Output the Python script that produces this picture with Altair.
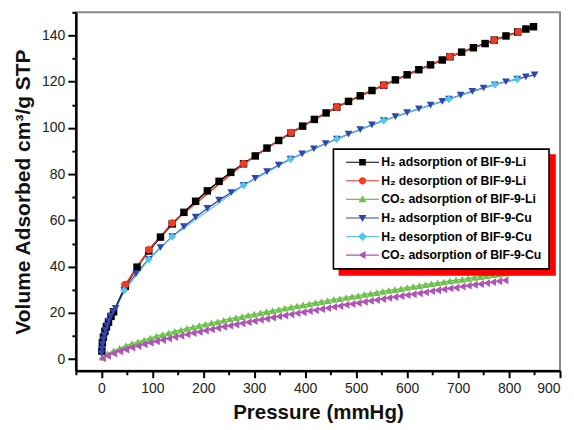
import altair as alt
import pandas as pd

series_names = [
    "H₂ adsorption of BIF-9-Li",
    "H₂ desorption of BIF-9-Li",
    "CO₂ adsorption of BIF-9-Li",
    "H₂ adsorption of BIF-9-Cu",
    "H₂ desorption of BIF-9-Cu",
    "CO₂ adsorption of BIF-9-Cu",
]

li_ads_x = [1, 2, 4, 7, 10, 14, 19, 24, 47, 70, 93, 116, 139, 162, 185, 208, 231, 254, 279,
            302, 325, 348, 372, 395, 418, 441, 462, 485, 508, 531, 554, 577, 600, 623, 646,
            669, 684, 707, 730, 753, 771, 794, 817, 833, 848]
li_ads_y = [3.5, 7, 9.5, 12, 14, 16, 18.5, 20.5, 31.5, 39.8, 46.8, 52.8, 58.5, 63.5, 68.3,
            72.8, 76.9, 80.8, 84.5, 87.9, 91.3, 94.6, 97.8, 100.8, 103.7, 106.5, 109, 111.5,
            113.9, 116.2, 118.5, 120.8, 123.0, 125.2, 127.3, 129.4, 130.8, 132.8, 134.7,
            136.5, 138, 139.8, 141.5, 142.8, 143.8]

li_des_x = [47, 93, 139, 279, 372, 462, 554, 684, 771, 818]
li_des_y = [32.3, 47.3, 58.9, 84.5, 98.0, 109.0, 118.5, 130.9, 137.9, 141.5]

co2_li_x = [2, 12, 24, 36, 48, 60, 72, 84, 96, 108, 120, 132, 144, 156, 168, 180, 192, 204,
            216, 228, 240, 252, 264, 276, 288, 300, 312, 324, 336, 348, 360, 372, 384, 396,
            408, 420, 432, 444, 456, 468, 480, 492, 504, 516, 528, 540, 552, 564, 576, 588,
            600, 612, 624, 636, 648, 660, 672, 684, 696, 708, 720, 732, 744, 756, 768, 780,
            792, 800]
co2_li_y = [0.8, 2.3, 3.6, 4.7, 5.8, 6.7, 7.5, 8.3, 9.1, 9.9,
            10.6, 11.3, 12.0, 12.6, 13.3, 13.9, 14.5, 15.1, 15.7, 16.2,
            16.8, 17.4, 17.9, 18.4, 19.0, 19.5, 20.0, 20.5, 21.0, 21.5,
            22.0, 22.5, 23.0, 23.5, 23.9, 24.4, 24.9, 25.3, 25.8, 26.2,
            26.7, 27.1, 27.5, 28.0, 28.4, 28.8, 29.3, 29.7, 30.1, 30.5,
            31.0, 31.4, 31.8, 32.2, 32.6, 33.0, 33.4, 33.8, 34.2, 34.5,
            34.9, 35.3, 35.7, 36.1, 36.5, 36.8, 37.2, 37.5]

cu_ads_x = [0, 1, 2, 4, 6, 8, 11, 14, 18, 23, 28, 45, 68, 93, 116, 139, 162, 185, 208, 231,
            255, 279, 302, 325, 348, 371, 394, 417, 440, 462, 485, 508, 531, 554, 577, 600,
            623, 646, 669, 682, 705, 728, 750, 772, 794, 816, 833, 850]
cu_ads_y = [2.5, 4.5, 6.5, 8.5, 10.5, 12.5, 14.5, 16.5, 18.5, 20.5, 22, 29.8, 37, 43.2,
            48.3, 53, 57.3, 61.4, 65.2, 68.8, 72.1, 75.2, 78.2, 81.1, 83.9, 86.5, 88.8,
            91.0, 93.2, 95.2, 97.3, 99.3, 101.3, 103.2, 104.9, 106.6, 108.3, 109.9, 111.5,
            112.5, 114.2, 115.8, 117.3, 118.7, 120.0, 121.1, 122.1, 123.0]

cu_des_x = [45, 93, 139, 279, 371, 462, 554, 682, 772, 816]
cu_des_y = [29.8, 43.2, 53.0, 75.2, 86.5, 95.2, 103.2, 112.5, 118.7, 121.1]

co2_cu_x = [2, 12, 24, 36, 48, 60, 72, 84, 96, 108, 120, 132, 144, 156, 168, 180, 192, 204,
            216, 228, 240, 252, 264, 276, 288, 300, 312, 324, 336, 348, 360, 372, 384, 396,
            408, 420, 432, 444, 456, 468, 480, 492, 504, 516, 528, 540, 552, 564, 576, 588,
            600, 612, 624, 636, 648, 660, 672, 684, 696, 708, 720, 732, 744, 756, 768, 780,
            792]
co2_cu_y = [0.4, 1.5, 2.5, 3.4, 4.2, 5.0, 5.7, 6.4, 7.1, 7.7,
            8.3, 8.9, 9.6, 10.1, 10.7, 11.3, 11.8, 12.4, 12.9, 13.5,
            14.0, 14.5, 15.0, 15.5, 16.0, 16.5, 17.0, 17.5, 18.0, 18.5,
            18.9, 19.4, 19.9, 20.3, 20.8, 21.2, 21.7, 22.1, 22.6, 23.0,
            23.5, 23.9, 24.3, 24.8, 25.2, 25.6, 26.0, 26.5, 26.9, 27.3,
            27.7, 28.1, 28.5, 28.9, 29.4, 29.8, 30.2, 30.6, 30.9, 31.4,
            31.8, 32.2, 32.5, 32.9, 33.3, 33.7, 34.1]

x_ticks = [-50, 0, 50, 100, 150, 200, 250, 300, 350, 400, 450, 500, 550, 600, 650, 700, 750, 800, 850, 900]
y_ticks = [0, 10, 20, 30, 40, 50, 60, 70, 80, 90, 100, 110, 120, 130, 140, 150]

colors = ["#000000", "#ee3b25", "#6cc24a", "#2f45b0", "#52c6e6", "#b052b8"]
shapes = ["square", "circle", "triangle-up", "triangle-down", "diamond", "triangle-left"]
sizes = [56, 62, 28, 58, 62, 44]
line_widths = [1.6, 1.1, 1.0, 1.0, 1.0, 1.0]

# legend symbols: a short line with the marker on it
_line = "M-4.7,-0.16H4.7V0.16H-4.7Z "
legend_shapes = [
    _line + "M-0.95,-0.95H0.95V0.95H-0.95Z",
    _line + "M-1.05,0A1.05,1.05 0 1,1 1.05,0A1.05,1.05 0 1,1 -1.05,0Z",
    _line + "M0,-1.15L1.15,0.85L-1.15,0.85Z",
    _line + "M0,1.15L-1.15,-0.85L1.15,-0.85Z",
    _line + "M0,-1.25L1.25,0L0,1.25L-1.25,0Z",
    _line + "M-1.15,0L0.85,-1.15L0.85,1.15Z",
]

all_x = [li_ads_x, li_des_x, co2_li_x, cu_ads_x, cu_des_x, co2_cu_x]
all_y = [li_ads_y, li_des_y, co2_li_y, cu_ads_y, cu_des_y, co2_cu_y]

rows = []
for k, (name, xs, ys) in enumerate(zip(series_names, all_x, all_y)):
    for i, (xv, yv) in enumerate(zip(xs, ys)):
        rows.append({"series": name, "p": xv, "v": yv, "idx": i, "k": k})
df = pd.DataFrame(rows)
legend_df = df.groupby("series", sort=False).head(1).copy()

shadow_names = ["#" + n for n in series_names]
shadow_df = legend_df.copy()
shadow_df["shadow"] = ["#" + n for n in shadow_df["series"]]

x_enc = alt.X(
    "p:Q",
    scale=alt.Scale(domain=[-50, 900], nice=False, zero=False),
    axis=alt.Axis(
        values=x_ticks,
        title="Pressure (mmHg)",
        titleFontSize=20.5,
        labelExpr="datum.value % 100 === 0 ? datum.label : ''",
        tickSize={"condition": {"test": "datum.value % 100 === 0", "value": 7}, "value": 4},
        labelPadding=4,
        titlePadding=7,
        format="d",
    ),
)
y_enc = alt.Y(
    "v:Q",
    scale=alt.Scale(domain=[-5, 150], nice=False, zero=False),
    axis=alt.Axis(
        values=y_ticks,
        title="Volume Adsorbed cm³/g STP",
        titleFontSize=21,
        labelExpr="datum.value % 20 === 0 ? datum.label : ''",
        tickSize={"condition": {"test": "datum.value % 20 === 0", "value": 8}, "value": 4},
        labelPadding=3,
        titlePadding=8,
        format="d",
    ),
)

base = alt.Chart(df)

lines = base.mark_line().encode(
    x=x_enc,
    y=y_enc,
    color=alt.Color("series:N", scale=alt.Scale(domain=series_names, range=colors), legend=None),
    strokeWidth=alt.StrokeWidth("series:N", scale=alt.Scale(domain=series_names, range=line_widths), legend=None),
    detail="series:N",
    order="idx:Q",
)

points = base.mark_point(filled=True, opacity=1).encode(
    x=x_enc,
    y=y_enc,
    color=alt.Color("series:N", scale=alt.Scale(domain=series_names, range=colors), legend=None),
    shape=alt.Shape("series:N", scale=alt.Scale(domain=series_names, range=shapes), legend=None),
    size=alt.Size("series:N", scale=alt.Scale(domain=series_names, range=sizes), legend=None),
)

common_legend = dict(
    title=None,
    orient="none",
    direction="vertical",
    symbolSize=49,
    symbolStrokeWidth=0,
    symbolOpacity=1,
    symbolOffset=16,
    labelOffset=12.5,
    labelFont="Liberation Sans",
    labelFontWeight="bold",
    labelFontSize=12.3,
    labelLimit=400,
    padding=7,
    rowPadding=5.6,
    cornerRadius=0,
)

main_legend = alt.Legend(
    legendX=258, legendY=137, fillColor="white", strokeColor="black", labelColor="black",
    zindex=3, **common_legend
)
shadow_legend = alt.Legend(
    legendX=264, legendY=143, fillColor="red", strokeColor="red", labelColor="red",
    zindex=2, labelExpr="slice(datum.label, 1)", **common_legend
)

shadow_layer = alt.Chart(shadow_df).mark_point(filled=True, opacity=0, size=49).encode(
    x=x_enc,
    y=y_enc,
    color=alt.Color("shadow:N", scale=alt.Scale(domain=shadow_names, range=["red"] * 6), legend=shadow_legend),
    shape=alt.Shape("shadow:N", scale=alt.Scale(domain=shadow_names, range=legend_shapes), legend=shadow_legend),
)

legend_layer = alt.Chart(legend_df).mark_point(filled=True, opacity=0, size=49).encode(
    x=x_enc,
    y=y_enc,
    color=alt.Color("series:N", scale=alt.Scale(domain=series_names, range=colors), legend=main_legend),
    shape=alt.Shape("series:N", scale=alt.Scale(domain=series_names, range=legend_shapes), legend=main_legend),
)

chart = (
    alt.layer(lines, points, shadow_layer, legend_layer)
    .resolve_scale(color="independent", shape="independent")
    .properties(
        width=485,
        height=359,
        autosize=alt.AutoSizeParams(type="none"),
        padding={"left": 68, "top": 4, "right": 6, "bottom": 55},
        background="white",
    )
    .configure_axis(
        grid=False,
        labelFont="Liberation Sans",
        labelFontSize=14,
        labelColor="#222222",
        titleFont="Liberation Sans",
        titleFontWeight="bold",
        titleColor="#111111",
        domainColor="black",
        domainWidth=2.5,
        tickColor="black",
        tickWidth=2,
    )
    .configure_legend(strokeWidth=1.6)
    .configure_view(stroke="#8a8a8a", strokeWidth=2)
)

chart.save("out.html", embed_options={"renderer": "svg", "actions": False})
